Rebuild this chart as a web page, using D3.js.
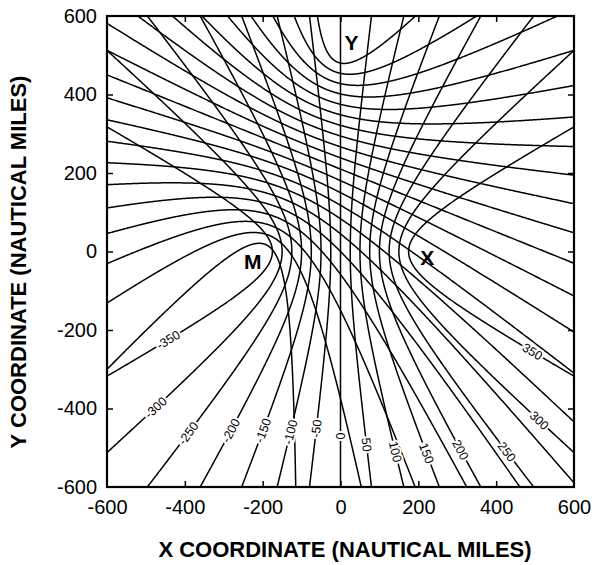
<!DOCTYPE html>
<html>
<head>
<meta charset="utf-8">
<script src="https://cdn.jsdelivr.net/npm/d3@7"></script>
<style>
  body { margin: 0; background: #fff; }
  svg { font-family: "Liberation Sans", Arial, Helvetica, sans-serif; }
  .frame { fill: none; stroke: #000; stroke-width: 2.2; }
  .lop { fill: none; stroke: #000; stroke-width: 1.5; }
  .tick line { stroke: #000; stroke-width: 1.5; }
  .domain { display: none; }
</style>
</head>
<body>
<svg id="chart" width="594" height="565"></svg>
<script>
// stations (nautical miles)
var stationNames = ["M", "X", "Y"];
var stationX = [-200, 200, 0];
var stationY = [0, 0, 500];

// range differences drawn for each pair (nautical miles)
var mxValues = [-350, -300, -250, -200, -150, -100, -50, 0, 50, 100, 150, 200, 250, 300, 350];
var myValues = [-500, -450, -400, -350, -300, -250, -200, -150, -100, -50, 0, 50, 100, 150, 200, 250, 300, 350, 400, 450, 500];

var tickValues = [-600, -400, -200, 0, 200, 400, 600];

// where along each M-X line its label sits (y, nautical miles)
var labelAt = [-225, -397, -464, -456, -456, -461, -451, -469, -493, -511, -513, -505, -510, -430, -255];

var svg = d3.select("#chart");
var x = d3.scaleLinear().domain([-600, 600]).range([107, 574]);
var y = d3.scaleLinear().domain([-600, 600]).range([487, 16]);

var st = stationNames.map(function(n, i) { return {name: n, x: stationX[i], y: stationY[i]}; });

// points on d1 - d2 = c, foci F1, F2
var hyperbola = function(F1, F2, c) {
  var cx = (F1.x + F2.x) / 2, cy = (F1.y + F2.y) / 2;
  var dx = F2.x - F1.x, dy = F2.y - F1.y;
  var L = Math.sqrt(dx*dx + dy*dy);
  var ex = dx / L, ey = dy / L, nx = -ey, ny = ex;
  var f = L / 2;
  var pts = [];
  if (c === 0) {
    for (var t = -2000; t <= 2000; t += 5) {
      pts.push([cx + nx*t, cy + ny*t]);
    }
  } else {
    var a = Math.abs(c) / 2, b = Math.sqrt(f*f - a*a), s = c > 0 ? 1 : -1;
    for (var t = -7; t <= 7; t += 0.004) {
      var u = s * a * Math.cosh(t), v = b * Math.sinh(t);
      pts.push([cx + u*ex + v*nx, cy + u*ey + v*ny]);
    }
  }
  return pts;
};

svg.append("clipPath").attr("id", "plot")
  .append("rect")
  .attr("x", x(-600)).attr("y", y(600))
  .attr("width", x(600) - x(-600)).attr("height", y(-600) - y(600));

var line = d3.line()
  .defined(function(p) { return Math.abs(p[0]) < 800 && Math.abs(p[1]) < 800; })
  .x(function(p) { return x(p[0]); })
  .y(function(p) { return y(p[1]); });

var g = svg.append("g").attr("clip-path", "url(#plot)");

var mxLines = mxValues.map(function(c) { return hyperbola(st[0], st[1], c); });
var myLines = myValues.map(function(c) { return hyperbola(st[0], st[2], c); });

g.selectAll(".my")
  .data(myLines)
  .enter().append("path")
  .attr("class", "lop my")
  .attr("d", line);

g.selectAll(".mx")
  .data(mxLines)
  .enter().append("path")
  .attr("class", "lop mx")
  .attr("d", line);

// labels for M-X lines
var labels = mxValues.map(function(c, i) {
  var pts = mxLines[i], best = 0, bd = 1e9;
  for (var k = 1; k < pts.length - 1; k++) {
    if (pts[k][1] > 0) continue;
    var d = Math.abs(pts[k][1] - labelAt[i]);
    if (d < bd) { bd = d; best = k; }
  }
  var p0 = pts[best - 1], p1 = pts[best + 1];
  var sx = x(p1[0]) - x(p0[0]), sy = y(p1[1]) - y(p0[1]);
  var ang = Math.atan2(sy, sx) * 180 / Math.PI;
  if (sx < 0) ang += 180;
  if (ang > 90) ang -= 360;
  return {text: c, px: x(pts[best][0]), py: y(pts[best][1]), ang: ang};
});

svg.selectAll(".lbl")
  .data(labels)
  .enter().append("text")
  .attr("class", "lbl")
  .attr("transform", function(d) { return "translate(" + d.px + "," + d.py + ") rotate(" + d.ang + ")"; })
  .attr("text-anchor", "middle")
  .attr("dy", ".35em")
  .style("font-size", "12.5px")
  .style("stroke", "#fff")
  .style("stroke-width", 4)
  .style("paint-order", "stroke")
  .text(function(d) { return d.text; });

// station letters
var stationOffset = {M: [-10, 10], X: [9, 6], Y: [11, -13]};
svg.selectAll(".stn")
  .data(st)
  .enter().append("text")
  .attr("class", "stn")
  .attr("x", function(d) { return x(d.x) + stationOffset[d.name][0]; })
  .attr("y", function(d) { return y(d.y) + stationOffset[d.name][1]; })
  .attr("dy", ".36em")
  .attr("text-anchor", "middle")
  .style("font-size", "21px")
  .style("font-weight", "bold")
  .text(function(d) { return d.name; });

// frame
svg.append("rect").attr("class", "frame")
  .attr("x", x(-600)).attr("y", y(600))
  .attr("width", x(600) - x(-600)).attr("height", y(-600) - y(600));

// inner ticks on all sides
var inner = [-400, -200, 0, 200, 400];
svg.append("g").attr("transform", "translate(0," + y(-600) + ")")
  .call(d3.axisBottom(x).tickValues(inner).tickSize(-6).tickFormat(""));
svg.append("g").attr("transform", "translate(0," + y(600) + ")")
  .call(d3.axisTop(x).tickValues(inner).tickSize(-6).tickFormat(""));
svg.append("g").attr("transform", "translate(" + x(-600) + ",0)")
  .call(d3.axisLeft(y).tickValues(inner).tickSize(-6).tickFormat(""));
svg.append("g").attr("transform", "translate(" + x(600) + ",0)")
  .call(d3.axisRight(y).tickValues(inner).tickSize(-6).tickFormat(""));

// tick labels
var fmt = function(d) { return String(d); };
svg.append("g").attr("transform", "translate(0," + y(-600) + ")")
  .call(d3.axisBottom(x).tickValues(tickValues).tickSize(0).tickPadding(13).tickFormat(fmt));
svg.append("g").attr("transform", "translate(" + x(-600) + ",0)")
  .call(d3.axisLeft(y).tickValues(tickValues).tickSize(0).tickPadding(10).tickFormat(fmt));
svg.selectAll(".tick text")
  .style("font-size", "20px")
  .style("font-family", "'Liberation Sans', Arial, sans-serif")
  .attr("fill", "#000");

// axis titles
svg.append("text")
  .attr("x", 345).attr("y", 557)
  .attr("text-anchor", "middle")
  .style("font-size", "22px").style("font-weight", "bold")
  .text("X COORDINATE (NAUTICAL MILES)");

svg.append("text")
  .attr("transform", "translate(26,262) rotate(-90)")
  .attr("text-anchor", "middle")
  .style("font-size", "22px").style("font-weight", "bold")
  .text("Y COORDINATE (NAUTICAL MILES)");
</script>
</body>
</html>
